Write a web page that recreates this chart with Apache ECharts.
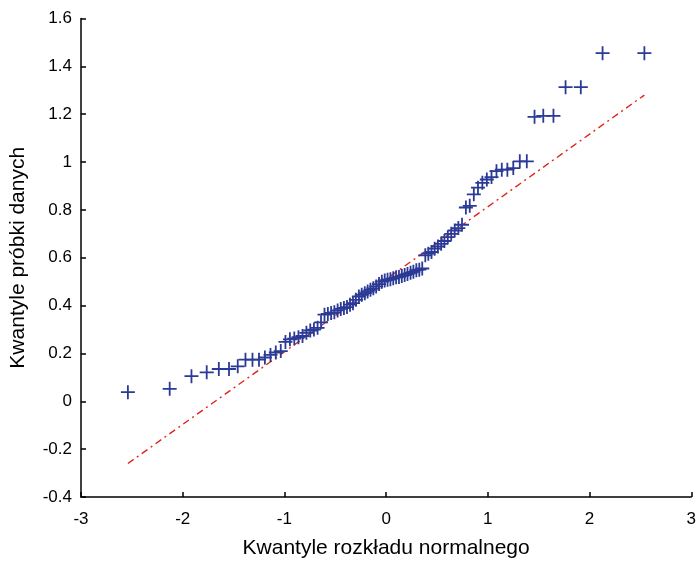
<!DOCTYPE html>
<html><head><meta charset="utf-8">
<script src="https://cdn.jsdelivr.net/npm/echarts@6/dist/echarts.min.js"></script>
<style>html,body{margin:0;padding:0;background:#fff}#c{width:699px;height:564px}</style>
</head><body><div id="c"></div>
<script>
// Theoretical normal quantiles (x) (90 points)
const xQuantiles = [
  -2.539,-2.128,-1.914,-1.764,-1.645,-1.545,-1.459,-1.383,-1.314,-1.250,
  -1.192,-1.137,-1.085,-1.036,-0.990,-0.946,-0.903,-0.862,-0.822,-0.784,
  -0.746,-0.710,-0.674,-0.640,-0.606,-0.573,-0.541,-0.509,-0.477,-0.446,
  -0.415,-0.385,-0.355,-0.326,-0.297,-0.268,-0.240,-0.210,-0.182,-0.154,
  -0.126,-0.098,-0.070,-0.042,-0.014,0.014,0.042,0.070,0.098,0.126,
  0.154,0.182,0.210,0.240,0.268,0.297,0.326,0.355,0.385,0.415,
  0.446,0.477,0.509,0.541,0.573,0.606,0.640,0.674,0.710,0.746,
  0.784,0.822,0.862,0.903,0.946,0.990,1.036,1.085,1.137,1.192,
  1.250,1.314,1.383,1.459,1.545,1.645,1.764,1.914,2.128,2.539
];
// Sample quantiles (y)
const sampleQuantiles = [
  0.038,0.052,0.105,0.121,0.135,0.135,0.146,0.174,0.174,0.174,
  0.183,0.194,0.204,0.210,0.248,0.259,0.262,0.268,0.273,0.286,
  0.296,0.300,0.307,0.330,0.362,0.365,0.369,0.372,0.380,0.386,
  0.390,0.394,0.404,0.410,0.424,0.438,0.445,0.452,0.459,0.466,
  0.472,0.480,0.490,0.500,0.505,0.508,0.510,0.514,0.518,0.520,
  0.524,0.528,0.532,0.537,0.541,0.548,0.550,0.555,0.610,0.617,
  0.624,0.638,0.647,0.658,0.670,0.686,0.700,0.714,0.724,0.738,
  0.810,0.817,0.865,0.893,0.913,0.927,0.937,0.962,0.968,0.968,
  0.975,1.003,1.003,1.189,1.193,1.193,1.313,1.313,1.455,1.455
];
// Reference line endpoints
const refLineX = [-2.539, 2.539];
const refLineY = [-0.26, 1.28];
const xTickLabels = ['-3','-2','-1','0','1','2','3'];
const yTickLabels = ['-0.4','-0.2','0','0.2','0.4','0.6','0.8','1','1.2','1.4','1.6'];

const pts = xQuantiles.map((x, i) => [x, sampleQuantiles[i]]);
const line = refLineX.map((x, i) => [x, refLineY[i]]);

const font = 'Liberation Sans, Arial, sans-serif';
const chart = echarts.init(document.getElementById('c'), null, {renderer: 'canvas'});
chart.setOption({
  animation: false,
  backgroundColor: '#fff',
  grid: {left: 78.5, right: 6, top: 18.5, bottom: 62, containLabel: false},
  xAxis: {
    type: 'value', min: -3, max: 3, interval: 1,
    name: 'Kwantyle rozkładu normalnego', nameLocation: 'middle', nameGap: 41,
    nameTextStyle: {fontFamily: font, fontSize: 21, color: '#000'},
    axisLine: {onZero: false, lineStyle: {color: '#000', width: 1.5}},
    axisTick: {inside: true, length: 5, lineStyle: {color: '#000', width: 1.5}},
    axisLabel: {margin: 14, fontFamily: font, fontSize: 17, color: '#000',
      formatter: v => xTickLabels[Math.round(v + 3)]},
    splitLine: {show: false}
  },
  yAxis: {
    type: 'value', min: -0.4, max: 1.6, interval: 0.2,
    name: 'Kwantyle próbki danych', nameLocation: 'middle', nameGap: 52,
    nameTextStyle: {fontFamily: font, fontSize: 21, color: '#000'},
    axisLine: {onZero: false, lineStyle: {color: '#000', width: 1.5}},
    axisTick: {inside: true, length: 5, lineStyle: {color: '#000', width: 1.5}},
    axisLabel: {margin: 9, fontFamily: font, fontSize: 17, color: '#000',
      formatter: v => yTickLabels[Math.round((v + 0.4) / 0.2)]},
    splitLine: {show: false}
  },
  series: [
    {
      type: 'line', data: line, symbol: 'none', silent: true,
      lineStyle: {color: '#e2231a', width: 1.4, type: [7, 4, 2, 4]},
      z: 1
    },
    {
      type: 'scatter', data: pts,
      symbol: 'path://M0,6.1H14V7.9H0Z M6.1,0H7.9V14H6.1Z',
      symbolSize: 14,
      itemStyle: {color: '#2a3a96', opacity: 1},
      z: 2
    }
  ]
});
</script>
</body></html>
